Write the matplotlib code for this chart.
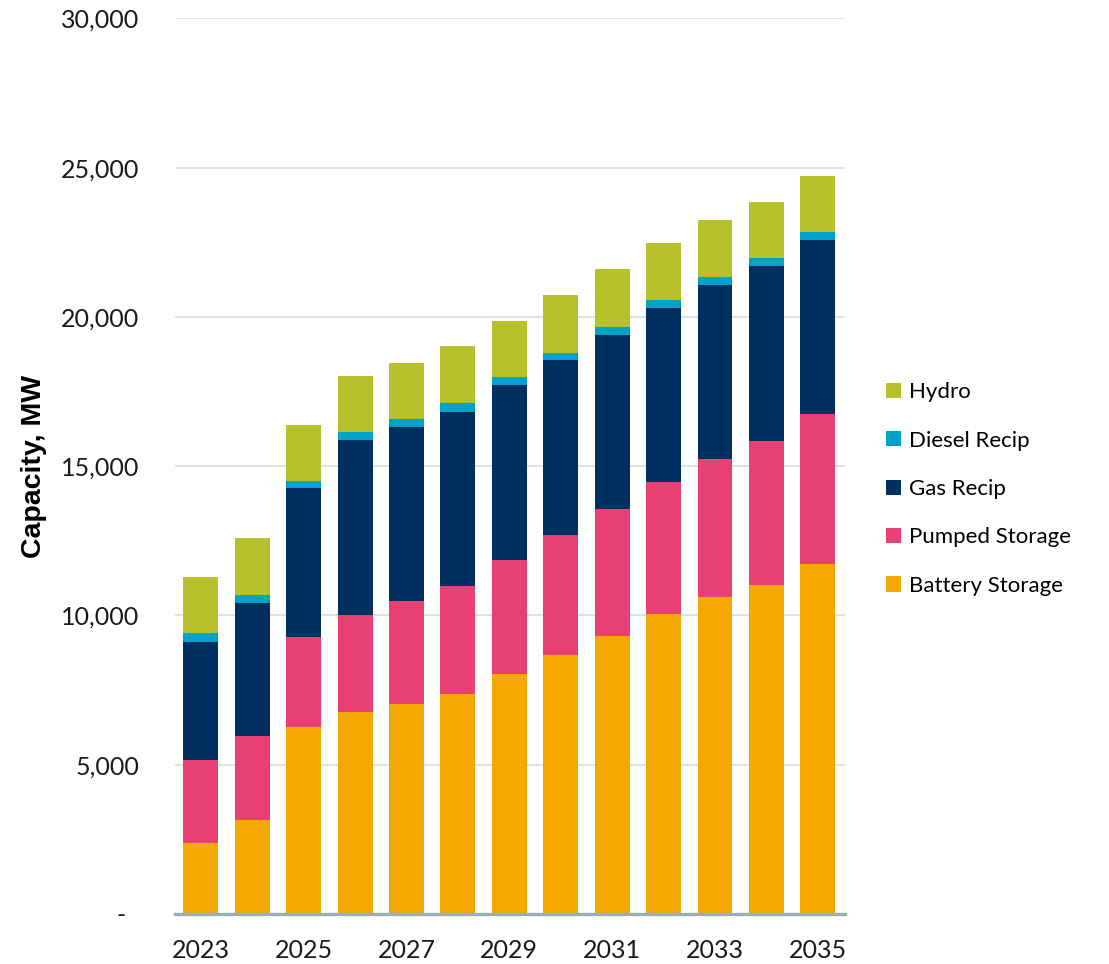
import numpy as np
import matplotlib.pyplot as plt
import matplotlib as mpl
from matplotlib.patches import Patch
from matplotlib.ticker import FuncFormatter

mpl.rcParams['font.family'] = ['Lato', 'DejaVu Sans']
mpl.rcParams['axes.linewidth'] = 0.8

years = ['2023', '2024', '2025', '2026', '2027', '2028', '2029',
         '2030', '2031', '2032', '2033', '2034', '2035']

# capacity by resource, MW
battery = [2370, 3140, 6260, 6775, 7045, 7380, 8025, 8665, 9310, 10045, 10605, 11030, 11720]
pumped = [2780, 2830, 3005, 3230, 3430, 3605, 3820, 4040, 4255, 4410, 4620, 4805, 5015]
gas = [3950, 4455, 4990, 5870, 5830, 5840, 5870, 5840, 5840, 5840, 5840, 5880, 5840]
diesel = [310, 270, 255, 260, 270, 300, 260, 255, 260, 260, 260, 260, 260]
hydro = [1875, 1890, 1875, 1885, 1885, 1890, 1885, 1920, 1930, 1930, 1930, 1885, 1885]

series = [('Battery Storage', battery, '#F5A800'),
          ('Pumped Storage', pumped, '#E84072'),
          ('Gas Recip', gas, '#00305F'),
          ('Diesel Recip', diesel, '#00A3C8'),
          ('Hydro', hydro, '#B8C12B')]

fig = plt.figure(figsize=(11.09, 9.64), dpi=100)
ax = fig.add_axes([0.158, 0.0519, 0.604, 0.9291])

x = np.arange(len(years))
bottom = np.zeros(len(years))
handles = []
for name, vals, col in series:
    vals = np.array(vals, dtype=float)
    ax.bar(x, vals, width=0.68, bottom=bottom, color=col, linewidth=0, zorder=3)
    bottom += vals
    handles.append(Patch(facecolor=col, edgecolor='none', label=name))

ax.set_xlim(-0.5, len(years) - 0.47)
ax.set_ylim(0, 30000)
ax.set_yticks(np.arange(0, 30001, 5000))
ax.yaxis.set_major_formatter(FuncFormatter(lambda v, p: '-  ' if v == 0 else f'{v:,.0f}'))
ax.set_xticks(x[::2])
ax.set_xticklabels(years[::2])

ax.grid(axis='y', color='#D9D9D9', linewidth=1.1, zorder=0)
ax.set_axisbelow(True)
for s in ['top', 'right', 'left']:
    ax.spines[s].set_visible(False)
ax.spines['bottom'].set_color('#9AAFB4')
ax.spines['bottom'].set_linewidth(2.4)
ax.spines['bottom'].set_zorder(4)

ax.tick_params(axis='y', length=0, pad=26, labelsize=18, labelcolor='#1a1a1a')
ax.tick_params(axis='x', length=0, pad=18, labelsize=18, labelcolor='#1a1a1a')

ax.set_ylabel('Capacity, MW', fontsize=20.5, fontweight='bold',
              family=['Liberation Sans', 'DejaVu Sans'])
ax.yaxis.set_label_coords(-0.191, 0.5)

ax.legend(handles=handles[::-1], loc='center left',
          bbox_to_anchor=(886 / 1109, 1 - 489 / 964), bbox_transform=fig.transFigure,
          frameon=False, fontsize=16, handlelength=0.68, handleheight=0.68,
          handletextpad=0.36, labelspacing=1.28, borderpad=0, borderaxespad=0)

plt.savefig('out.png', dpi=100)
